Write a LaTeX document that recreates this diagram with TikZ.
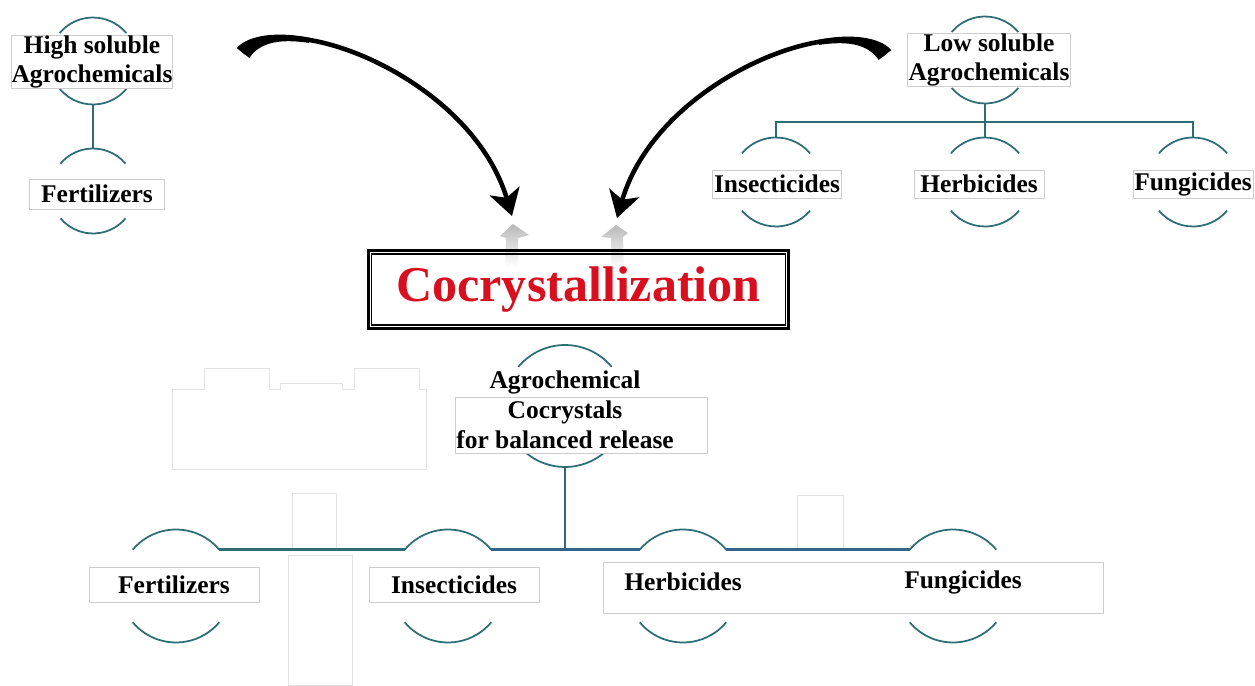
\documentclass[tikz,border=0pt]{standalone}
\usepackage{fontspec}
\setmainfont{Liberation Serif}
\usetikzlibrary{arrows.meta}
\definecolor{rimteal}{RGB}{45,110,118}
\definecolor{treeblue}{RGB}{52,100,135}
\definecolor{cocred}{RGB}{215,15,30}

\begin{document}
\begin{tikzpicture}[x=0.02cm, y=-0.02cm,
	ring/.style={circle, inner sep=0pt, outer sep=0pt},
	rim/.style={draw=rimteal, line width=1pt},
	boxline/.style={draw=gray!40, fill=white, line width=0.4pt},
	txt/.style={font=\fontsize{14.5}{17}\selectfont\bfseries, align=center},
	lbl/.style={boxline, txt, inner sep=0pt},
	tree/.style={draw=rimteal, line width=1.1pt},
	fat/.style={line width=2.6pt, -{Stealth[length=0.52cm, width=0.62cm, inset=0.14cm]}},
	ghost/.style={draw=gray!22, line width=0.5pt}]

		\useasboundingbox (0,0) rectangle (1255,686);

		% rings behind the labels
		\node(r-high-1)[ring, minimum size=1.74cm] at (93,61) {};
		\node(r-high-2)[ring, minimum size=1.70cm] at (93,191) {};
		\node(r-low-1)[ring, minimum size=1.74cm] at (985,60) {};
		\node(r-low-2)[ring, minimum size=1.78cm] at (776,182) {};
		\node(r-low-3)[ring, minimum size=1.78cm] at (985,182) {};
		\node(r-low-4)[ring, minimum size=1.78cm] at (1193,182) {};
		\node(r-agro-1)[ring, minimum size=2.44cm] at (565,406) {};
		\node(r-agro-2)[ring, minimum size=2.26cm] at (176,586) {};
		\node(r-agro-3)[ring, minimum size=2.26cm] at (448,586) {};
		\node(r-agro-4)[ring, minimum size=2.26cm] at (683,586) {};
		\node(r-agro-5)[ring, minimum size=2.26cm] at (953,586) {};

		\foreach \n/\r in {r-high-1/0.87, r-high-2/0.85, r-low-1/0.87, r-low-2/0.89, r-low-3/0.89, r-low-4/0.89, r-agro-1/1.22, r-agro-2/1.13, r-agro-3/1.13, r-agro-4/1.13, r-agro-5/1.13}{
			\draw[rim] (\n.40) arc[start angle=40, end angle=140, radius=\r cm];
			\draw[rim] (\n.220) arc[start angle=220, end angle=320, radius=\r cm];
		}

		% faint leftover frames
		\draw[ghost] (172,469) -- (172,389) -- (204,389) -- (204,368) -- (269,368) -- (269,389) -- (280,389) -- (280,383) -- (342,383) -- (342,389) -- (354,389) -- (354,368) -- (419,368) -- (419,389) -- (426,389) -- (426,469) -- cycle;
		\draw[ghost] (292,493) rectangle (336,548);
		\draw[ghost] (288,555) rectangle (352,685);
		\draw[ghost] (797,495) rectangle (843,548);

		\draw[tree] (r-high-1.south) -- (r-high-2.north);
		\draw[tree] (r-low-1.south) -- ++(0,18.5) coordinate(low-bar);
		\draw[tree] (r-low-2.north) |- (low-bar) -| (r-low-4.north);
		\draw[tree] (low-bar) -- (r-low-3.north);

		\draw[tree, draw=treeblue, line width=1.4pt] (r-agro-1.south) -- (r-agro-1.south |- r-agro-2.40);
		\draw[tree, line width=1.4pt] (r-agro-2.40) -- (r-agro-3.140);
		\draw[tree, draw=treeblue, line width=1.4pt] (r-agro-3.40) -- (r-agro-4.140) (r-agro-4.40) -- (r-agro-5.140);

		\node(high-1)[lbl, minimum width=2.98cm, minimum height=1.02cm] at (92,62) {High soluble\\Agrochemicals};
		\node(high-2)[lbl, minimum width=2.7cm, minimum height=0.6cm] at (97,194) {Fertilizers};

		\node(low-1)[lbl, minimum width=3.26cm, minimum height=0.92cm] at (989,60) {Low soluble\\Agrochemicals};
		\node(low-2)[lbl, minimum width=2.58cm, minimum height=0.56cm] at (777,184) {Insecticides};
		\node(low-3)[lbl, minimum width=2.6cm, minimum height=0.56cm] at (979,184) {Herbicides};
		\node(low-4)[lbl, minimum width=2.4cm, minimum height=0.56cm] at (1193,184) {Fungicides};

		\draw[boxline] (455,397) rectangle (707,453);
		\node(agro-1)[txt] at (565,410) {Agrochemical\\Cocrystals\\for balanced release};
		\node(agro-2)[lbl, minimum width=3.4cm, minimum height=0.7cm] at (174,585) {Fertilizers};
		\node(agro-3)[lbl, minimum width=3.4cm, minimum height=0.7cm] at (454,585) {Insecticides};
		\draw[boxline] (603,562) rectangle (1103,613);
		\node(agro-4)[txt] at (683,582) {Herbicides};
		\node(agro-5)[txt] at (963,582) {Fungicides};

		% mirrored heads under the arrows
		\shade[top color=gray!55, bottom color=white] (513,224) -- (529,235) -- (518,238) -- (518,267) -- (505,267) -- (506,238) -- (500,236) -- cycle;
		\shade[top color=gray!55, bottom color=white] (616,225) -- (628,233) -- (623,237) -- (624,267) -- (611,267) -- (611,238) -- (601,237) -- cycle;

		\node(cocry)[draw, line width=1.7pt, minimum width=8.42cm, minimum height=1.56cm, inner sep=0pt, font=\fontsize{28.5}{30}\selectfont\bfseries, text=cocred] at (578.5,289.5) {Cocrystallization};
		\draw[line width=0.8pt] ([shift={(5,5)}]cocry.north west) rectangle ([shift={(-5,-5)}]cocry.south east);

		\coordinate(l-start) at (243,53);
		\coordinate(l-end) at (512,216);
		\coordinate(r-start) at (885,55);
		\coordinate(r-end) at (617,218);

		\fill (236.7,48.1) .. controls (248.6,34.3) and (279.6,31.4) .. (309.9,37.9) -- (309.1,42.9) .. controls (278.3,38.3) and (259.6,42.9) .. (249.3,57.9) -- cycle;
		\fill (891.3,50.1) .. controls (879.4,36.3) and (848.4,33.4) .. (818.1,39.9) -- (818.9,44.9) .. controls (849.7,40.3) and (868.4,44.9) .. (878.7,59.9) -- cycle;
		\draw[fat] (l-start) .. controls (280,5) and (470,75) .. (l-end);
		\draw[fat] (r-start) .. controls (848,7) and (658,77) .. (r-end);
	\end{tikzpicture}
\end{document}
